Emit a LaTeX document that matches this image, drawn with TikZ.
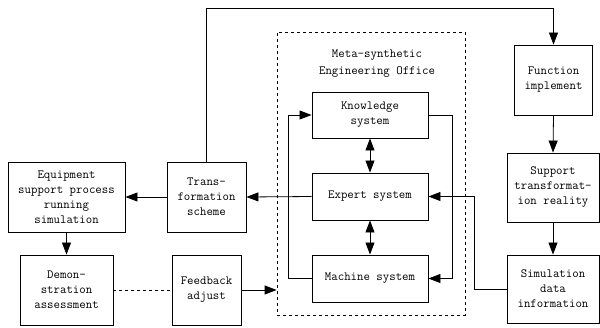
\documentclass[tikz,border=0pt]{standalone}
\usetikzlibrary{arrows.meta}
\begin{document}
\begin{tikzpicture}[x=1pt,y=-1pt,
  box/.style={draw, line width=0.9pt, align=center, inner sep=0pt,
    font=\ttfamily\fontsize{12.5}{15}\selectfont},
  link/.style={line width=0.8pt},
  tip/.style={},
  arr/.style={link, -{Triangle[length=12pt,width=9pt]}},
  darr/.style={link, {Triangle[length=12pt,width=9pt]}-{Triangle[length=12pt,width=9pt]}},
  office/.style={draw, dashed, line width=0.8pt, inner sep=0pt}
]
\useasboundingbox (0,0) rectangle (600,327);

% left column
\node[box, minimum width=117pt, minimum height=70pt] (equip) at (66.5,197)
  {Equipment\\support process\\running\\simulation};
\node[box, minimum width=93pt, minimum height=70pt] (demo) at (66.5,290)
  {Demon-\\stration\\assessment};
\node[box, minimum width=79pt, minimum height=70pt] (trans) at (206.5,197)
  {Trans-\\formation\\scheme};
\node[box, minimum width=69pt, minimum height=70pt] (feed) at (206.5,290)
  {Feedback\\adjust};

% engineering office
\node[office, minimum width=188pt, minimum height=283pt] (office) at (371,173.5) {};
\node[align=center, inner sep=0pt, font=\ttfamily\fontsize{12.5}{17}\selectfont] (title) at (377,64)
  {Meta-synthetic\\Engineering Office};
\node[box, minimum width=116pt, minimum height=46pt] (know) at (370,115)
  {Knowledge\\system};
\node[box, minimum width=116pt, minimum height=47pt] (expert) at (370,196.5)
  {Expert system};
\node[box, minimum width=116pt, minimum height=47pt] (machine) at (370,278.5)
  {Machine system};

% right column
\node[box, minimum width=78pt, minimum height=70pt] (func) at (553.5,80)
  {Function\\implement};
\node[box, minimum width=92pt, minimum height=69pt] (support) at (553,187.5)
  {Support\\transformat-\\ion reality};
\node[box, minimum width=92pt, minimum height=68pt] (sim) at (553,289)
  {Simulation\\data\\information};

\coordinate (topline) at (206.5,8);
\coordinate (leftloop) at (288,278.5);
\coordinate (rightloop) at (452,115);
\coordinate (simturn) at (474,289);

% connectors
\draw[arr] (trans.west) -- (equip.east);
\draw[arr] (equip.south) -- (demo.north);
\draw[arr] (expert.west) -- (trans.east);
\draw[link, dashed] (demo.east) -- (feed.west);
\draw[arr] (feed.east) -- (feed.east -| office.west);
\draw[arr] (trans.north) -- (topline) -| (func.north);
\draw[arr] (func.south) -- (support.north);
\draw[arr] (support.south) -- (sim.north);
\draw[darr] (know.south) -- (expert.north);
\draw[darr] (expert.south) -- (machine.north);
\draw[arr] (machine.west) -- (leftloop) |- (know.west);
\draw[arr] (know.east) -- (rightloop) |- (machine.east);
\draw[arr] (sim.west) -- (simturn) |- (expert.east);
\end{tikzpicture}
\end{document}
